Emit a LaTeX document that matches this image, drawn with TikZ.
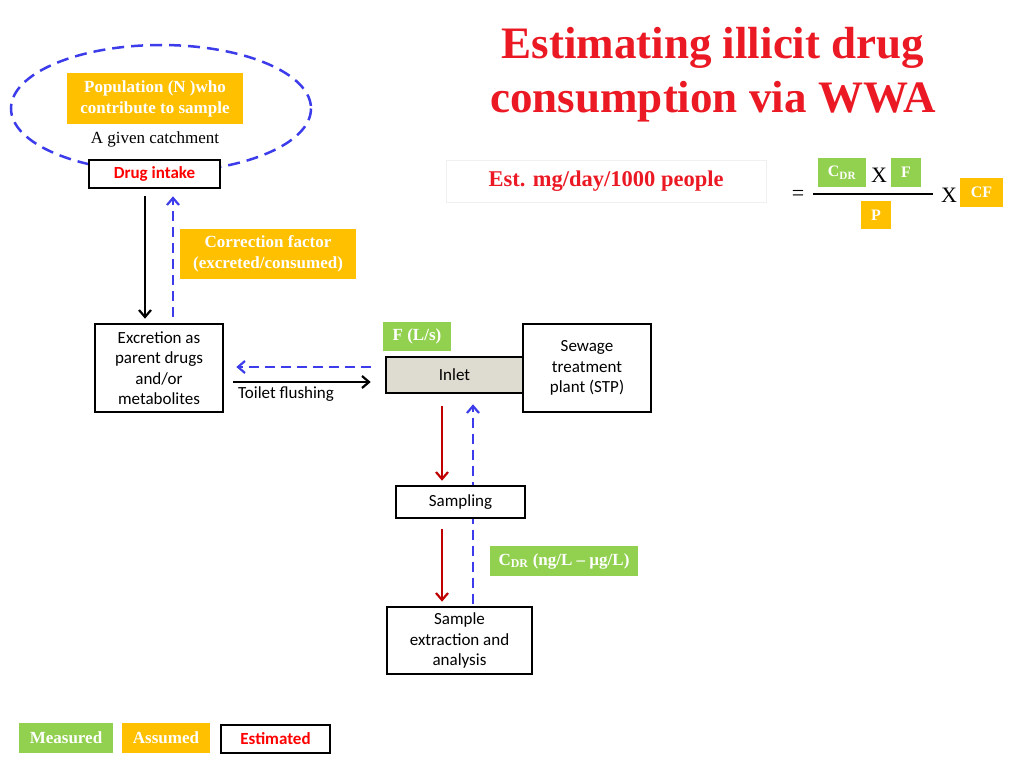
\documentclass[tikz,border=0pt]{standalone}
\usepackage{fontspec}
\setmainfont{Liberation Serif}
\newfontfamily\calfont{Carlito}
\usetikzlibrary{arrows.meta,calc}
\definecolor{mgreen}{RGB}{146,208,80}
\definecolor{myellow}{RGB}{255,192,0}
\definecolor{tred}{RGB}{235,25,35}
\definecolor{dblue}{RGB}{60,60,235}
\definecolor{dred}{RGB}{192,0,0}
\definecolor{inletgray}{RGB}{222,220,208}
\tikzset{
  box/.style={draw=black, line width=2.6pt, fill=white, font=\calfont\fontsize{17}{20.5}\selectfont, align=center, inner sep=0pt},
  lab/.style={font=\bfseries\fontsize{17}{21}\selectfont, text=white, align=center, inner sep=0pt},
  gbox/.style={lab, fill=mgreen},
  ybox/.style={lab, fill=myellow},
  blk/.style={-{Straight Barb[length=7pt,width=12pt,line width=2.2pt]}, line width=2.3pt},
  rdarrow/.style={blk, draw=dred},
  dsh/.style={draw=dblue, line width=2.5pt, dash pattern=on 12pt off 7pt},
  dsharrow/.style={draw=dblue, line width=2.5pt, dash pattern=on 10pt off 6pt, -{Straight Barb[length=7pt,width=12pt,line width=2.2pt]}},
}
\begin{document}
\begin{tikzpicture}[x=1pt,y=-1pt]
\useasboundingbox (0,0) rectangle (1024,768);
% title
\node[font=\bfseries\fontsize{45}{54}\selectfont, text=tred, align=center] (title) at (713,75) {Estimating illicit drug\\consumption via WWA};
% catchment ellipse
\draw[dsh] (161,108.5) ellipse [x radius=150, y radius=63.5];
\node[ybox, minimum width=176pt, minimum height=51pt] (pop) at (155,98.5) {Population (N )who\\contribute to sample};
\node[font=\fontsize{17}{19}\selectfont] (catch) at (155,139) {A given catchment};
\node[box, minimum width=131pt, minimum height=28pt, text=red, font=\calfont\bfseries\fontsize{17}{19}\selectfont] (drug) at (154.5,174) {Drug intake};
\node[ybox, minimum width=176pt, minimum height=50pt] (corr) at (268,254) {Correction factor\\(excreted/consumed)};
\node[box, minimum width=128pt, minimum height=88pt] (excr) at (159,368) {Excretion as\\parent drugs\\and/or\\metabolites};
\node[gbox, minimum width=68pt, minimum height=29pt] (flow) at (417,336.5) {F (L/s)};
\node[box, minimum width=128pt, minimum height=88pt] (stp) at (587,368) {Sewage\\treatment\\plant (STP)};
\node[box, fill=inletgray, minimum width=137pt, minimum height=36pt] (inlet) at (454.5,375) {Inlet};
\node[gbox, minimum width=148pt, minimum height=30pt] (cdr) at (564,561) {C\textsubscript{DR} (ng/L – µg/L)};
\node[box, minimum width=145pt, minimum height=67pt] (anal) at (459.5,640.5) {Sample\\extraction and\\analysis};
% helper x positions
\coordinate (xa) at (145,0);
\coordinate (xb) at (173,0);
\coordinate (xc) at (442,0);
\coordinate (xd) at (473,0);
% connectors left
\draw[blk, shorten <=7pt, shorten >=4pt] (drug.south -| xa) -- (excr.north -| xa);
\draw[dsharrow, shorten <=6pt, shorten >=7pt] (excr.north -| xb) -- (drug.south -| xb);
\draw[dsharrow, shorten <=14pt, shorten >=12pt] ([yshift=8pt]inlet.west) -- ([yshift=8pt]inlet.west -| excr.east);
\draw[blk, shorten <=9pt, shorten >=14pt] ([yshift=-7pt]inlet.west -| excr.east) -- ([yshift=-7pt]inlet.west);
\node[font=\calfont\fontsize{17}{19}\selectfont, anchor=north west, inner sep=0pt] (toilet) at (238,386) {Toilet flushing};
% connectors right
\draw[dsharrow, shorten <=2pt, shorten >=10pt] (anal.north -| xd) -- (inlet.south -| xd);
\node[box, minimum width=129pt, minimum height=32pt] (samp) at (460.5,502) {Sampling};
\draw[rdarrow, shorten <=12pt, shorten >=4pt] (inlet.south -| xc) -- (samp.north -| xc);
\draw[rdarrow, shorten <=10pt, shorten >=4pt] (samp.south -| xc) -- (anal.north -| xc);
% estimate text
\node[draw=black!6, line width=1pt, minimum width=320pt, minimum height=42pt, font=\bfseries\fontsize{22.5}{25}\selectfont, text=tred] (est) at (606,181) {Est. mg/day/1000 people};
% formula
\node[font=\fontsize{22}{24}\selectfont, inner sep=0pt] (eq) at (798,195) {=};
\coordinate (fl) at (813,194);
\coordinate (fr) at (933,194);
\draw[line width=2pt] (fl) -- (fr);
\node[gbox, minimum width=48pt, minimum height=29pt, font=\bfseries\fontsize{16}{20}\selectfont] (fc) at (842,172.5) {C\textsubscript{DR}};
\node[font=\fontsize{22}{24}\selectfont, inner sep=0pt] (x1) at (879,175) {X};
\node[gbox, minimum width=30pt, minimum height=29pt, font=\bfseries\fontsize{16}{20}\selectfont] (ff) at (906,172.5) {F};
\node[ybox, minimum width=30pt, minimum height=28pt, font=\bfseries\fontsize{16}{20}\selectfont] (fp) at (876,215) {P};
\node[font=\fontsize{22}{24}\selectfont, inner sep=0pt] (x2) at (949,195) {X};
\node[ybox, minimum width=43pt, minimum height=29pt, font=\bfseries\fontsize{16}{20}\selectfont] (fcf) at (981.5,192.5) {CF};
% legend
\node[gbox, minimum width=94pt, minimum height=30pt] (lm) at (66,738) {Measured};
\node[ybox, minimum width=88pt, minimum height=30pt] (la) at (166,738) {Assumed};
\node[box, minimum width=109pt, minimum height=28pt, text=red, font=\calfont\bfseries\fontsize{17}{19}\selectfont] (le) at (275.5,739) {Estimated};
\end{tikzpicture}
\end{document}
